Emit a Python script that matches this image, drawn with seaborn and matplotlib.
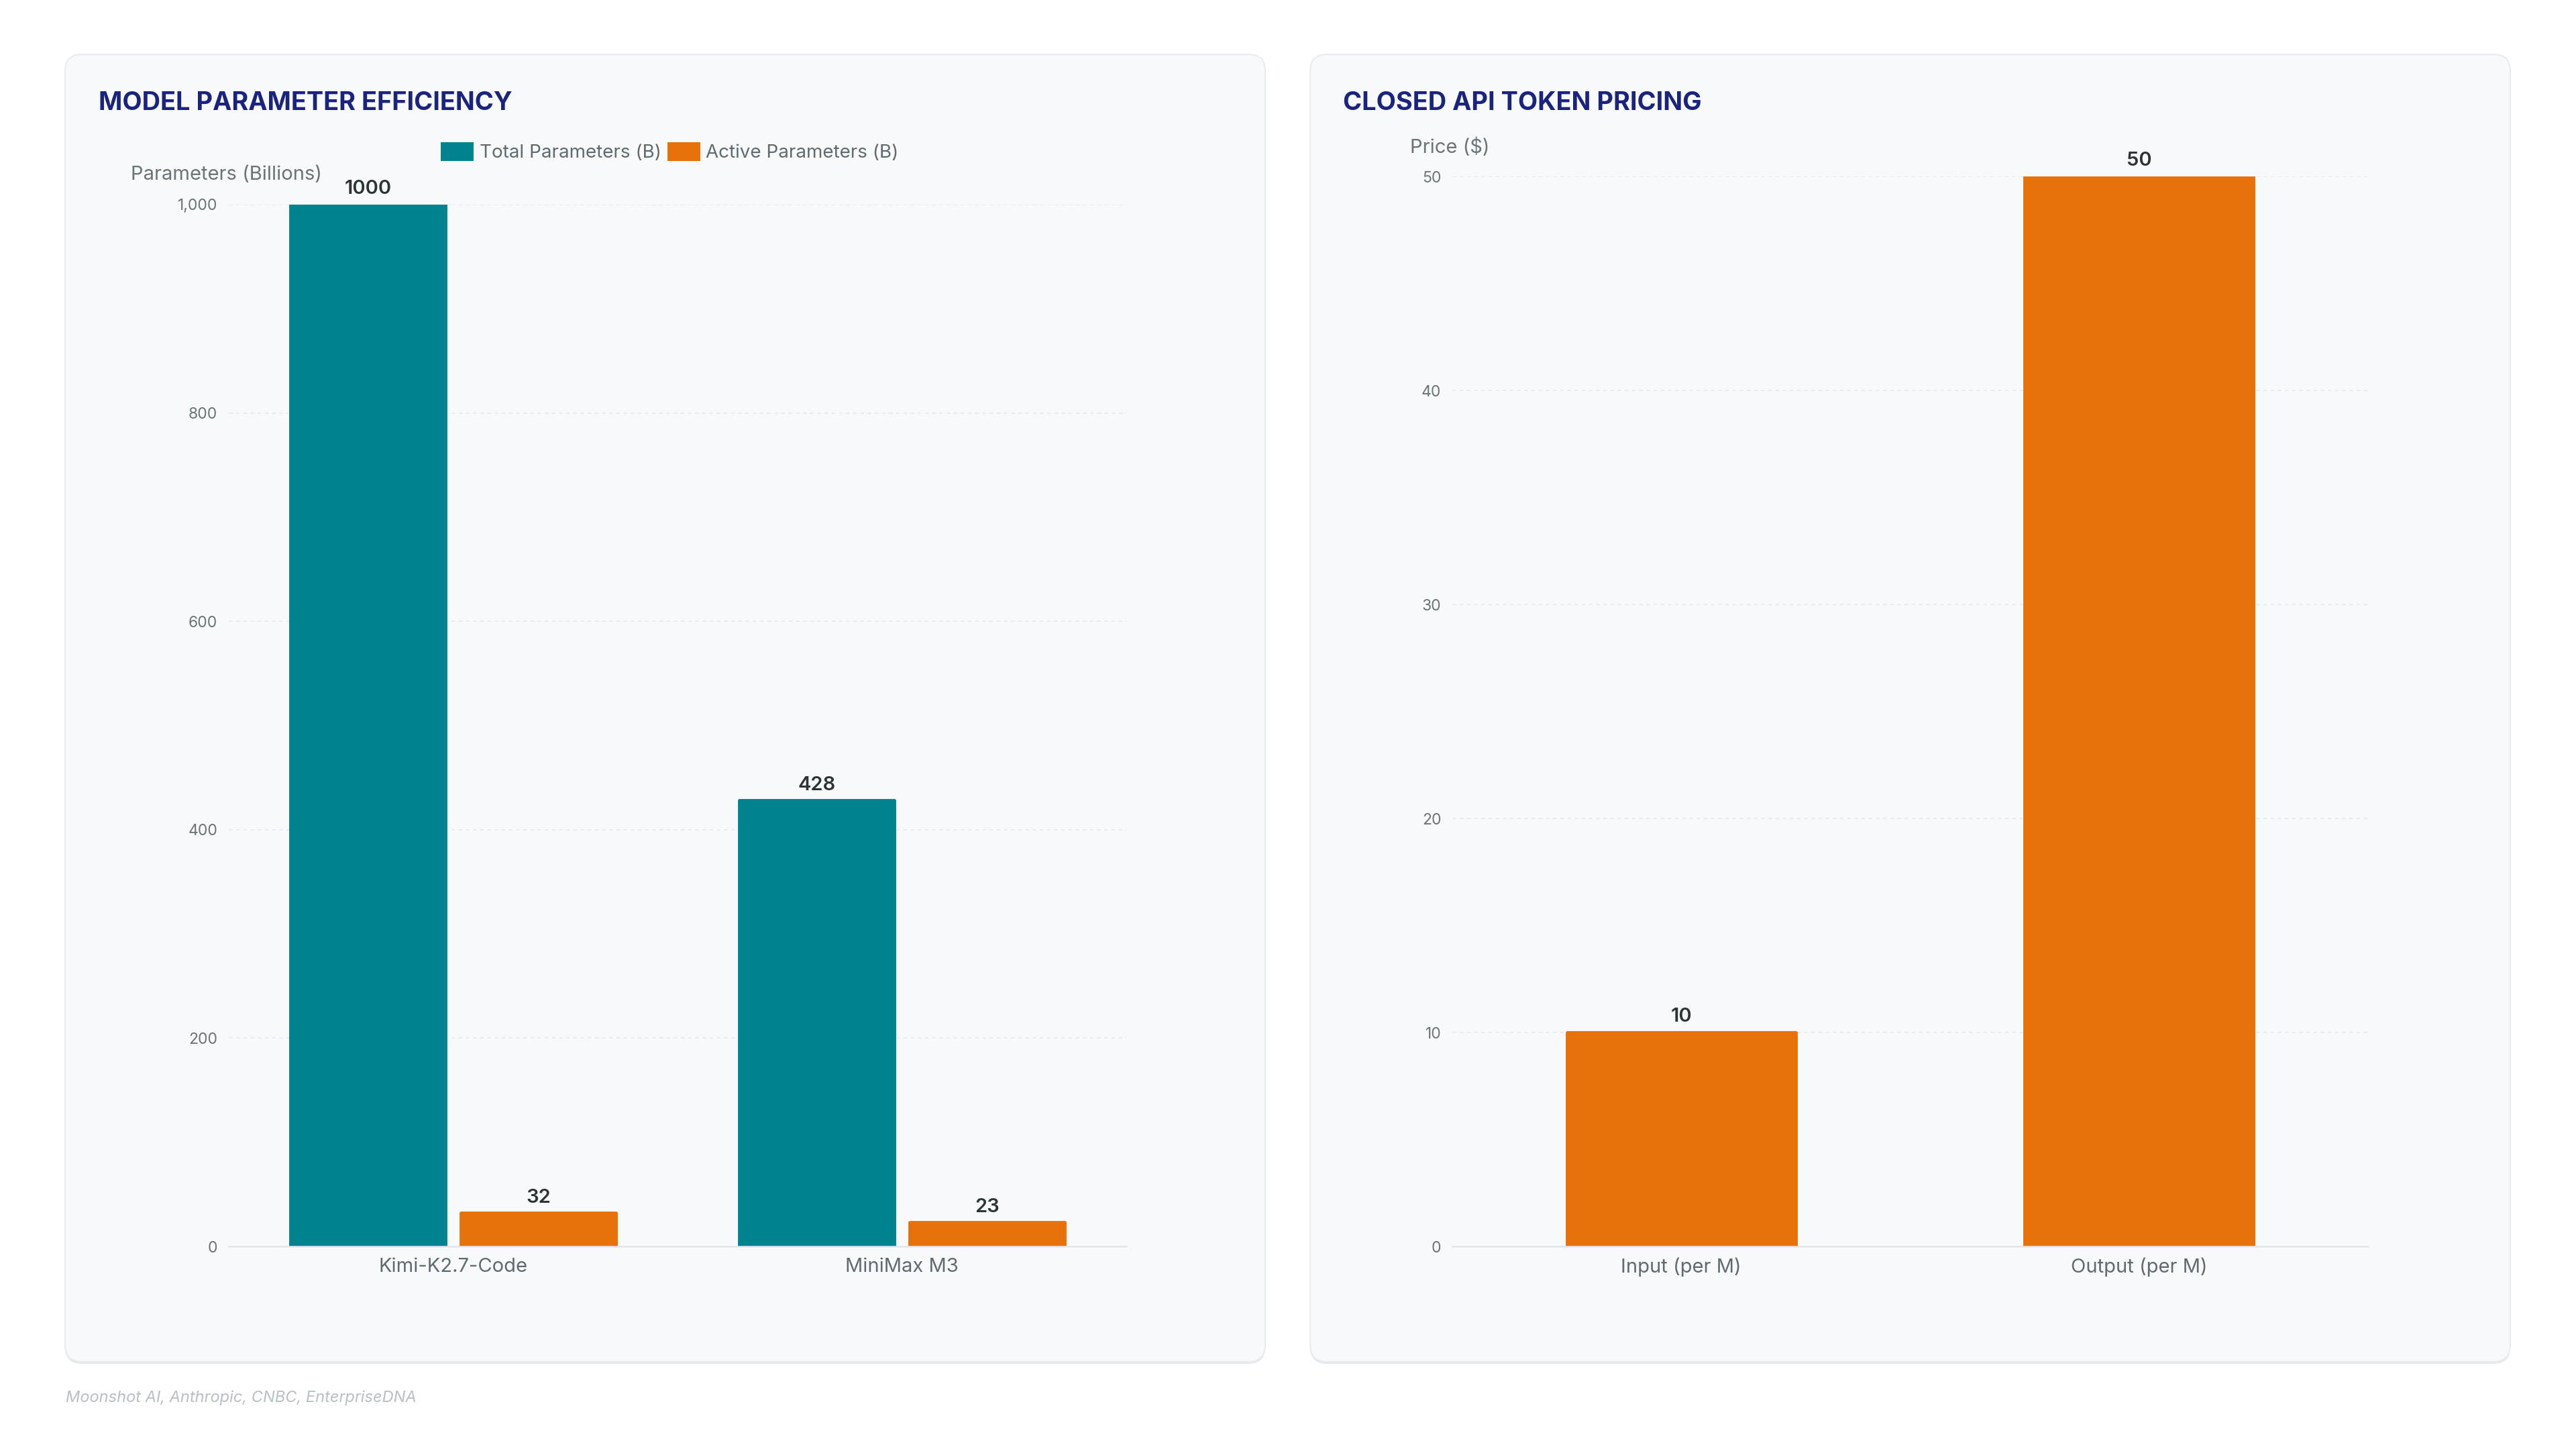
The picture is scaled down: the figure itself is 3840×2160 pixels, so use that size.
import pandas as pd
import matplotlib.pyplot as plt
import seaborn as sns
from matplotlib.patches import FancyBboxPatch, Patch
from matplotlib.ticker import FuncFormatter

# data
models = ["Kimi-K2.7-Code", "MiniMax M3"]
series_names = ["Total Parameters (B)", "Active Parameters (B)"]
total_params = [1000, 428]
active_params = [32, 23]

price_labels = ["Input (per M)", "Output (per M)"]
price_values = [10, 50]

source_note = "Moonshot AI, Anthropic, CNBC, EnterpriseDNA"

TEAL = "#00838f"
ORANGE = "#e8710a"
NAVY = "#1a237e"
TICK_GREY = "#6b7478"
LABEL_GREY = "#5f6b70"

sns.set_theme(style="white")
plt.rcParams["font.family"] = ["Inter", "DejaVu Sans"]

fig = plt.figure(figsize=(38.4, 21.6), dpi=100)
fig.patch.set_facecolor("white")

# card backgrounds
aspect = 3840 / 2160
for x0 in (0.02526, 0.5086):
    shadow = FancyBboxPatch((x0, 0.0602 - 0.0014), 0.4659, 0.9023,
                            boxstyle="round,pad=0,rounding_size=0.0065",
                            mutation_aspect=aspect, transform=fig.transFigure,
                            facecolor="#e4e7eb", edgecolor="none", zorder=-3)
    card = FancyBboxPatch((x0, 0.0602), 0.4659, 0.9023,
                          boxstyle="round,pad=0,rounding_size=0.0065",
                          mutation_aspect=aspect, transform=fig.transFigure,
                          facecolor="#f8f9fb", edgecolor="#e9ecef", linewidth=1.5,
                          zorder=-2)
    fig.patches.extend([shadow, card])

ax1 = fig.add_axes([0.0888, 0.1398, 0.3484, 0.7190])
ax2 = fig.add_axes([0.5638, 0.1398, 0.3555, 0.7384])

# left: grouped bars
df_params = pd.DataFrame({
    "model": models * 2,
    "series": [series_names[0]] * len(models) + [series_names[1]] * len(models),
    "value": total_params + active_params,
})
sns.barplot(data=df_params, x="model", y="value", hue="series",
            palette=[TEAL, ORANGE], saturation=1, width=0.76, gap=0.09,
            legend=False, ax=ax1)
ax1.set_ylim(0, 1000)
ax1.set_xlim(-0.5, len(models) - 0.5)
ax1.set_yticks(range(0, 1001, 200))
ax1.yaxis.set_major_formatter(FuncFormatter(lambda v, _: f"{v:,.0f}"))

# right: price bars
df_price = pd.DataFrame({"kind": price_labels, "price": price_values})
sns.barplot(data=df_price, x="kind", y="price", color=ORANGE, saturation=1,
            width=0.5, ax=ax2)
ax2.set_ylim(0, 50)
ax2.set_xlim(-0.5, len(price_labels) - 0.5)
ax2.set_yticks(range(0, 51, 10))


def style_axes(ax):
    ax.set_facecolor("none")
    for side in ("top", "right", "left"):
        ax.spines[side].set_visible(False)
    ax.spines["bottom"].set_color("#e3e6ea")
    ax.spines["bottom"].set_linewidth(1.8)
    ax.grid(axis="y", color="#e6e9ec", linestyle=(0, (4, 3)), linewidth=1.1)
    ax.grid(axis="x", visible=False)
    ax.set_axisbelow(True)
    ax.tick_params(axis="y", length=0, pad=12, labelsize=16.5, labelcolor=TICK_GREY)
    ax.tick_params(axis="x", length=0, pad=12, labelsize=21, labelcolor=LABEL_GREY)
    ax.set_xlabel("")
    ax.set_ylabel("")
    # rounded bar corners
    for p in ax.patches:
        p.set_edgecolor(p.get_facecolor())
        p.set_linewidth(3.5)
        p.set_joinstyle("round")
    for cont in ax.containers:
        ax.bar_label(cont, fmt="{:.0f}", padding=7, fontsize=21,
                     fontweight="semibold", color="#2d3436")


style_axes(ax1)
style_axes(ax2)

# titles & axis captions
fig.text(0.0383, 0.9241, "MODEL PARAMETER EFFICIENCY", fontsize=27.3,
         fontweight="bold", color=NAVY, va="baseline")
fig.text(0.5214, 0.9241, "CLOSED API TOKEN PRICING", fontsize=27.3,
         fontweight="bold", color=NAVY, va="baseline")
fig.text(0.0508, 0.8759, "Parameters (Billions)", fontsize=21,
         color=TICK_GREY, va="baseline")
fig.text(0.5474, 0.8944, "Price ($)", fontsize=21, color=TICK_GREY, va="baseline")

handles = [Patch(facecolor=c, edgecolor=c, linewidth=5, joinstyle="round", label=n)
           for c, n in zip([TEAL, ORANGE], series_names)]
fig.legend(handles=handles, loc="center", bbox_to_anchor=(0.2604, 0.8944), ncol=2,
           frameon=False, fontsize=20, labelcolor=LABEL_GREY, handlelength=1.5,
           handleheight=0.8, handletextpad=0.45, columnspacing=0.45)

fig.text(0.0255, 0.0324, source_note, fontsize=17, style="italic",
         color="#b7c0c5", va="baseline")

fig.savefig("out.png", dpi=100, facecolor="white")
